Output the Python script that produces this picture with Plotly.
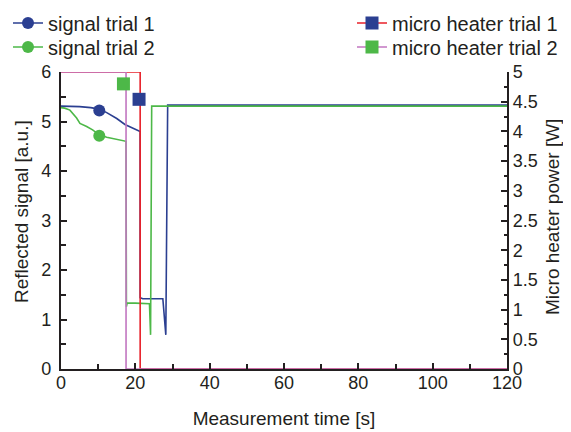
import plotly.graph_objects as go

# ---- data ----
t_sig1 = [0, 2, 5, 8, 10.3, 12.3, 15, 17.2, 20.4, 21.3, 21.3, 22, 24, 26, 27.4, 28.2, 28.7, 40, 60, 80, 100, 120]
sig1 = [5.31, 5.31, 5.30, 5.28, 5.25, 5.18, 5.06, 4.94, 4.83, 4.80, 1.44, 1.42, 1.42, 1.42, 1.42, 0.69, 5.33, 5.33, 5.33, 5.33, 5.33, 5.33]

t_sig2 = [0, 1, 2.4, 3.3, 4.2, 5.1, 6.9, 8.5, 10.3, 12.3, 14.5, 16.8, 17.5, 17.6, 17.8, 20, 22, 23.8, 24.1, 24.4, 30, 60, 90, 120]
sig2 = [5.28, 5.27, 5.23, 5.15, 5.07, 4.96, 4.90, 4.83, 4.73, 4.68, 4.65, 4.61, 4.60, 1.26, 1.33, 1.33, 1.32, 1.32, 0.69, 5.31, 5.31, 5.31, 5.31, 5.31]

t_heat1 = [0, 21.3, 21.3, 120]
heat1 = [5, 5, 0, 0]
t_heat2 = [0, 17.5, 17.5, 120]
heat2 = [5, 5, 0, 0]

# marker positions (legend symbols shown on the curves)
mark_sig1 = (10.3, 5.22)
mark_sig2 = (10.3, 4.71)
mark_heat1 = (21.0, 4.54)
mark_heat2 = (16.8, 4.80)

names = ["signal trial 1", "signal trial 2", "micro heater trial 1", "micro heater trial 2"]
y_title_left = "Reflected signal [a.u.]"
y_title_right = "Micro heater power [W]"
x_title = "Measurement time [s]"

BLUE = "#2b3f91"
GREEN = "#4db848"
RED = "#e8202a"
PURPLE = "#c276c0"
INK = "#231f20"
FONT = "Liberation Sans, Arial, Helvetica, sans-serif"

W, H = 563, 424  # page body has an 8px margin
ML, MR, MT, MB = 53, 64, 64, 63
PW, PH = W - ML - MR, H - MT - MB

fig = go.Figure()

# signal lines
fig.add_trace(go.Scatter(x=t_sig1, y=sig1, mode="lines", line=dict(color=BLUE, width=1.6), showlegend=False, yaxis="y"))
fig.add_trace(go.Scatter(x=t_sig2, y=sig2, mode="lines", line=dict(color=GREEN, width=1.6), showlegend=False, yaxis="y"))
# heater lines (right axis)
fig.add_trace(go.Scatter(x=t_heat1, y=heat1, mode="lines", line=dict(color=RED, width=1.6), showlegend=False, yaxis="y2"))
fig.add_trace(go.Scatter(x=t_heat2, y=heat2, mode="lines", line=dict(color=PURPLE, width=1.6), showlegend=False, yaxis="y2"))

# markers with legend entries
fig.add_trace(go.Scatter(x=[mark_sig1[0]], y=[mark_sig1[1]], mode="lines+markers", name=names[0],
                         line=dict(color=BLUE, width=1.6), marker=dict(symbol="circle", size=12, color=BLUE),
                         yaxis="y", legend="legend"))
fig.add_trace(go.Scatter(x=[mark_sig2[0]], y=[mark_sig2[1]], mode="lines+markers", name=names[1],
                         line=dict(color=GREEN, width=1.6), marker=dict(symbol="circle", size=12, color=GREEN),
                         yaxis="y", legend="legend2"))
fig.add_trace(go.Scatter(x=[mark_heat1[0]], y=[mark_heat1[1]], mode="lines+markers", name=names[2],
                         line=dict(color=RED, width=1.6), marker=dict(symbol="square", size=13, color=BLUE),
                         yaxis="y2", legend="legend3"))
fig.add_trace(go.Scatter(x=[mark_heat2[0]], y=[mark_heat2[1]], mode="lines+markers", name=names[3],
                         line=dict(color=PURPLE, width=1.6), marker=dict(symbol="square", size=13, color=GREEN),
                         yaxis="y2", legend="legend4"))

def leg(xpx, ypx):
    return dict(x=xpx / W, y=1 - ypx / H, xref="container", yref="container", xanchor="left", yanchor="middle",
                bgcolor="rgba(0,0,0,0)", font=dict(family=FONT, size=20, color=INK),
                borderwidth=0, itemwidth=30)

def px_to_paper(xfig, yfig):
    return (xfig - ML) / PW, (H - MB - yfig) / PH

lx, ly = px_to_paper(13, 204)
rx, ry = px_to_paper(544, 209)

fig.update_layout(
    width=W, height=H,
    margin=dict(l=ML, r=MR, t=MT, b=MB, autoexpand=False),
    paper_bgcolor="white", plot_bgcolor="white",
    font=dict(family=FONT, size=18, color=INK),
    legend=leg(0, 15),
    legend2=leg(0, 39),
    legend3=leg(344, 15),
    legend4=leg(344, 39),
    annotations=[
        dict(text=y_title_left, xref="paper", yref="paper", x=lx, y=ly, xanchor="center", yanchor="middle",
             textangle=-90, showarrow=False, font=dict(size=19, color=INK)),
        dict(text=y_title_right, xref="paper", yref="paper", x=rx, y=ry, xanchor="center", yanchor="middle",
             textangle=-90, showarrow=False, font=dict(size=19, color=INK)),
    ],
    xaxis=dict(
        range=[0, 120], dtick=20, tick0=0, showgrid=False, zeroline=False,
        showline=True, linecolor=INK, linewidth=2.2,
        ticks="inside", ticklen=6, tickwidth=1.5, tickcolor=INK,
        minor=dict(dtick=10, ticks="inside", ticklen=5, tickwidth=1.5, tickcolor=INK, showgrid=False),
        title=dict(text=x_title, font=dict(size=19), standoff=20),
        tickfont=dict(size=18), automargin=True, ticklabelstandoff=-4,
    ),
    yaxis=dict(
        range=[0, 6], dtick=1, tick0=0, showgrid=False, zeroline=False,
        showline=True, linecolor=INK, linewidth=2.2,
        ticks="inside", ticklen=6, tickwidth=1.5, tickcolor=INK,
        minor=dict(dtick=0.5, ticks="inside", ticklen=5, tickwidth=1.5, tickcolor=INK, showgrid=False),
        tickfont=dict(size=18), automargin=True, ticklabelstandoff=4,
    ),
    yaxis2=dict(
        range=[0, 5], dtick=0.5, tick0=0, overlaying="y", side="right",
        showgrid=False, zeroline=False,
        showline=True, linecolor=INK, linewidth=2.2,
        ticks="inside", ticklen=6, tickwidth=1.5, tickcolor=INK,
        minor=dict(dtick=0.25, ticks="inside", ticklen=3, tickwidth=1.5, tickcolor=INK, showgrid=False),
        tickfont=dict(size=18), automargin=True,
    ),
)

fig.write_html("out.html")
